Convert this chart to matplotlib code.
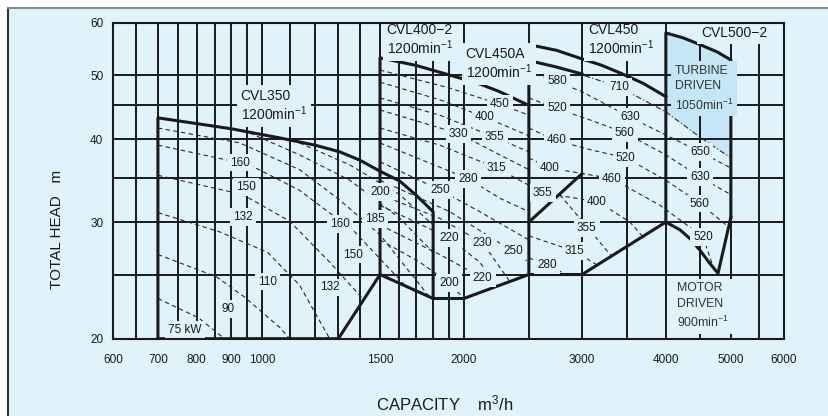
import matplotlib
matplotlib.use("Agg")
import matplotlib.pyplot as plt
from matplotlib.patches import Rectangle
from matplotlib.lines import Line2D
from matplotlib.ticker import FixedLocator, FixedFormatter, NullLocator

plt.rcParams['font.family'] = ['Liberation Sans', 'DejaVu Sans']
plt.rcParams['mathtext.fontset'] = 'custom'
plt.rcParams['mathtext.rm'] = 'Liberation Sans'
plt.rcParams['mathtext.it'] = 'Liberation Sans:italic'
plt.rcParams['mathtext.default'] = 'regular'

BG = '#e0f2fa'
FILL = '#c4e6f7'
INK = '#1a1a1a'

# --- grid / ticks ---
grid_q = [600, 650, 700, 750, 800, 850, 900, 950, 1000, 1100, 1200, 1300, 1400, 1500,
          1600, 1700, 1800, 1900, 2000, 2500, 3000, 3500, 4000, 4500, 5000, 5500, 6000]
grid_h = [20, 25, 30, 35, 40, 45, 50, 60]
tick_q = [600, 700, 800, 900, 1000, 1500, 2000, 3000, 4000, 5000, 6000]
tick_h = [20, 30, 40, 50, 60]

# --- pump envelopes (thick lines) ---
cvl350_q = [700, 700, 900, 1063, 1200, 1306, 1400, 1500, 1605, 1700, 1800, 1800]
cvl350_h = [20, 43.1, 41.5, 40.2, 39.2, 38.3, 37.2, 35.8, 34.6, 32.9, 31.1, 23.0]
bottom_q = [700, 1300, 1500, 1800, 2000, 2500, 3000, 4000, 4199, 4350, 4497, 4650, 4784, 5000]
bottom_h = [20, 20, 25, 23.0, 23.0, 25, 25, 30, 29.2, 28.3, 27.2, 26.0, 25.1, 30.5]
cvl400_q = [1500, 1500, 1700, 1906, 2100, 2262, 2500]
cvl400_h = [25, 53.1, 51.7, 50.0, 48.6, 47.2, 45.0]
cvl450_q = [2500, 2500, 2750, 3000, 3200, 3417, 3700, 4000]
cvl450_h = [25, 55.6, 54.5, 52.9, 51.8, 50.4, 48.6, 46.4]
cvl450_inner_q = [2500, 2734, 3000]
cvl450_inner_h = [52.6, 51.5, 50.2]
cvl450_diag_q = [2500, 3000]
cvl450_diag_h = [30, 35.5]
cvl500_q = [4000, 4000, 4250, 4497, 4772, 5000, 5000]
cvl500_h = [30, 57.9, 56.9, 55.6, 54.2, 52.7, 30.5]

# --- motor output curves (kW) ---
cvl350_kw = [
    ([700, 927, 1138, 1306, 1500, 1779], [41.6, 39.5, 36.0, 32.4, 28.7, 23.1]),
    ([700, 959, 1138, 1375, 1633], [39.2, 36.6, 33.5, 29.0, 24.1]),
    ([700, 937, 1100, 1262, 1418], [35.3, 33.0, 30.1, 26.1, 22.9]),
    ([700, 865, 1020, 1138, 1262], [31.0, 29.0, 27.0, 24.1, 20.0]),
    ([700, 856, 943, 1063, 1100], [26.8, 24.8, 23.1, 20.8, 20.0]),
    ([700, 805, 880], [23.0, 21.5, 20.0]),
    ([1138, 1352, 1605, 1800], [39.5, 36.6, 33.0, 29.7]),
    ([959, 1138, 1352, 1605, 1800], [40.9, 37.9, 34.7, 30.4, 27.0]),
]
cvl400_kw = [
    ([1500, 1906, 2262, 2500], [50.9, 47.8, 45.2, 43.5]),
    ([1500, 1841, 2149, 2500], [48.8, 45.9, 43.2, 40.5]),
    ([1500, 1841, 2224, 2500], [46.2, 43.5, 40.3, 38.3]),
    ([1500, 1965, 2262, 2500], [44.3, 40.8, 37.9, 36.0]),
    ([1500, 1841, 2240, 2500], [41.6, 39.2, 36.2, 34.1]),
    ([1500, 2027, 2262, 2500], [39.5, 34.9, 32.6, 31.1]),
    ([1500, 1848, 2112, 2500], [37.0, 33.5, 31.1, 28.2]),
    ([1500, 1906, 2366, 2500], [34.7, 31.1, 27.1, 26.1]),
    ([1500, 1841, 2134, 2342], [33.0, 30.4, 27.9, 24.4]),
    ([1500, 1899, 2112, 2240], [31.8, 28.4, 26.1, 24.0]),
    ([1500, 1841, 2134, 2200], [29.7, 26.8, 24.7, 23.8]),
    ([1500, 1719, 1899, 2000], [28.2, 26.1, 24.3, 23.0]),
]
cvl450_kw = [
    ([2500, 2733, 3000, 3536, 4000, 4497, 5000], [50.6, 49.0, 47.2, 43.2, 40.6, 38.3, 36.2]),
    ([2500, 2733, 3082, 3476, 4000, 4497, 5000], [46.2, 44.6, 42.8, 40.9, 37.9, 35.1, 33.0]),
    ([2500, 2733, 3082, 3488, 4000, 4497, 4960], [41.6, 39.9, 38.6, 37.5, 34.7, 32.0, 29.5]),
    ([2500, 2686, 3324, 3921, 4543, 4686], [37.5, 36.2, 34.9, 31.8, 28.5, 26.0]),
    ([2500, 2623, 3167, 3536, 3698], [34.1, 33.2, 32.2, 30.0, 28.5]),
    ([2780, 3061, 3324], [33.0, 29.4, 26.6]),
    ([2500, 2927, 3167], [28.6, 27.1, 25.8]),
    ([2500, 2659, 2850], [26.5, 25.8, 25.0]),
]
turbine_edge_q = [3029, 3405, 4000, 4497, 5000]
turbine_edge_h = [49.9, 48.0, 44.0, 40.3, 37.5]

# --- kW labels: text, capacity, head ---
kw_labels = [
    ('160', 927, 36.9), ('150', 948, 33.9), ('132', 937, 30.5), ('110', 1020, 24.4),
    ('90', 892, 22.2), ('75 kW', 768, 20.6), ('200', 1500, 33.3), ('185', 1475, 30.3),
    ('160', 1306, 29.8), ('150', 1365, 26.8), ('132', 1262, 23.9),
    ('450', 2262, 45.2), ('400', 2149, 43.2), ('330', 1965, 40.8), ('355', 2224, 40.3),
    ('315', 2240, 36.2), ('280', 2027, 34.9), ('250', 1847, 33.5), ('220', 1900, 28.4),
    ('230', 2134, 27.9), ('250', 2366, 27.1), ('220', 2134, 24.7), ('200', 1900, 24.3),
    ('580', 2752, 49.0), ('520', 2752, 44.6), ('460', 2752, 39.9), ('400', 2686, 36.2),
    ('355', 2623, 33.2), ('280', 2659, 25.8), ('315', 2924, 27.1), ('355', 3050, 29.4),
    ('400', 3159, 32.2), ('460', 3324, 34.9), ('520', 3487, 37.5), ('560', 3475, 40.9),
    ('630', 3535, 43.2), ('710', 3404, 48.0), ('650', 4496, 38.3), ('630', 4496, 35.1),
    ('560', 4496, 32.0), ('520', 4543, 28.5),
]

# --- model labels: text, capacity (left edge), head ---
model_labels = [
    ('CVL350\n1200min$^{-1}$', 930, 44.9),
    ('CVL400\u22122\n1200min$^{-1}$', 1535, 56.5),
    ('CVL450A\n1200min$^{-1}$', 2013, 52.0),
    ('CVL450\n1200min$^{-1}$', 3061, 56.5),
    ('CVL500\u22122', 4512, 57.9),
]

fig = plt.figure(figsize=(8.29, 4.16), dpi=100)
fig.patch.set_facecolor('white')
fig.patches.append(Rectangle((8 / 829, 0), 1, 408 / 416, transform=fig.transFigure,
                             facecolor=BG, edgecolor='none', zorder=-10))
fig.lines.append(Line2D([8 / 829, 8 / 829], [0, 408 / 416], transform=fig.transFigure,
                        color='#333333', lw=1.5, zorder=-5))
fig.lines.append(Line2D([8 / 829, 1], [408 / 416, 408 / 416], transform=fig.transFigure,
                        color='#8a8a8a', lw=1.5, zorder=-5))

ax = fig.add_axes([113 / 829, 1 - 338.7 / 416, 671 / 829, 316 / 416])
ax.set_facecolor(BG)
ax.set_xscale('log')
ax.set_yscale('log')
ax.set_xlim(600, 6000)
ax.set_ylim(20, 60)

# grid
ax.vlines(grid_q, 20, 60, colors=INK, lw=1.4, zorder=1)
ax.hlines(grid_h, 600, 6000, colors=INK, lw=1.4, zorder=1)

# turbine driven area
fill_q = cvl500_q[1:6] + turbine_edge_q[::-1][:3]
fill_h = cvl500_h[1:6] + turbine_edge_h[::-1][:3]
ax.fill(fill_q, fill_h, color=FILL, zorder=0.5, lw=0)

# dashed kW curves
for q, h in cvl350_kw + cvl400_kw + cvl450_kw:
    ax.plot(q, h, color='#2a2a2a', lw=0.8, ls=(0, (4, 3)), zorder=2)
ax.plot(turbine_edge_q, turbine_edge_h, color='#2a2a2a', lw=0.8, ls=(0, (5, 2, 1, 2)), zorder=2)

# envelopes
thick = dict(color=INK, lw=2.2, zorder=4, solid_joinstyle='round')
for q, h in [(cvl350_q, cvl350_h), (bottom_q, bottom_h), (cvl400_q, cvl400_h),
             (cvl450_q, cvl450_h), (cvl450_inner_q, cvl450_inner_h),
             (cvl450_diag_q, cvl450_diag_h), (cvl500_q, cvl500_h)]:
    ax.plot(q, h, **thick)

# labels
for txt, q, h in kw_labels:
    ax.text(q, h, txt, ha='center', va='center', fontsize=8.5, color=INK, zorder=5,
            bbox=dict(boxstyle='square,pad=0.25', fc=BG, ec='none'))
for txt, q, h in model_labels:
    ax.text(q, h, txt, ha='left', va='center', fontsize=10, color=INK, zorder=5,
            linespacing=1.05, bbox=dict(boxstyle='square,pad=0.3', fc=BG, ec='none'))
ax.text(4127, 47.7, 'TURBINE\nDRIVEN\n1050min$^{-1}$', ha='left', va='center',
        fontsize=8.8, color='#333333', linespacing=1.4, zorder=5,
        bbox=dict(boxstyle='square,pad=0.3', fc=FILL, ec='none'))
ax.text(4155, 22.4, 'MOTOR\nDRIVEN\n900min$^{-1}$', ha='left', va='center',
        fontsize=8.8, color='#333333', linespacing=1.4, zorder=5,
        bbox=dict(boxstyle='square,pad=0.3', fc=BG, ec='none'))

# axes cosmetics
ax.xaxis.set_major_locator(FixedLocator(tick_q))
ax.xaxis.set_major_formatter(FixedFormatter([str(v) for v in tick_q]))
ax.yaxis.set_major_locator(FixedLocator(tick_h))
ax.yaxis.set_major_formatter(FixedFormatter([str(v) for v in tick_h]))
ax.xaxis.set_minor_locator(NullLocator())
ax.yaxis.set_minor_locator(NullLocator())
ax.tick_params(length=0, labelsize=8.5, colors=INK)
ax.tick_params(axis='x', pad=11)
ax.tick_params(axis='y', pad=7)
for s in ax.spines.values():
    s.set_linewidth(1.5)
    s.set_color(INK)
    s.set_zorder(6)

fig.text(57 / 829, 1 - 229 / 416, 'TOTAL HEAD   m', rotation=90, ha='center', va='center',
         fontsize=11, color=INK)
fig.text(445 / 829, 1 - 403 / 416, 'CAPACITY    m$^3$/h', ha='center', va='center',
         fontsize=12, color=INK)

fig.savefig('out.png', dpi=100, facecolor=fig.get_facecolor())
